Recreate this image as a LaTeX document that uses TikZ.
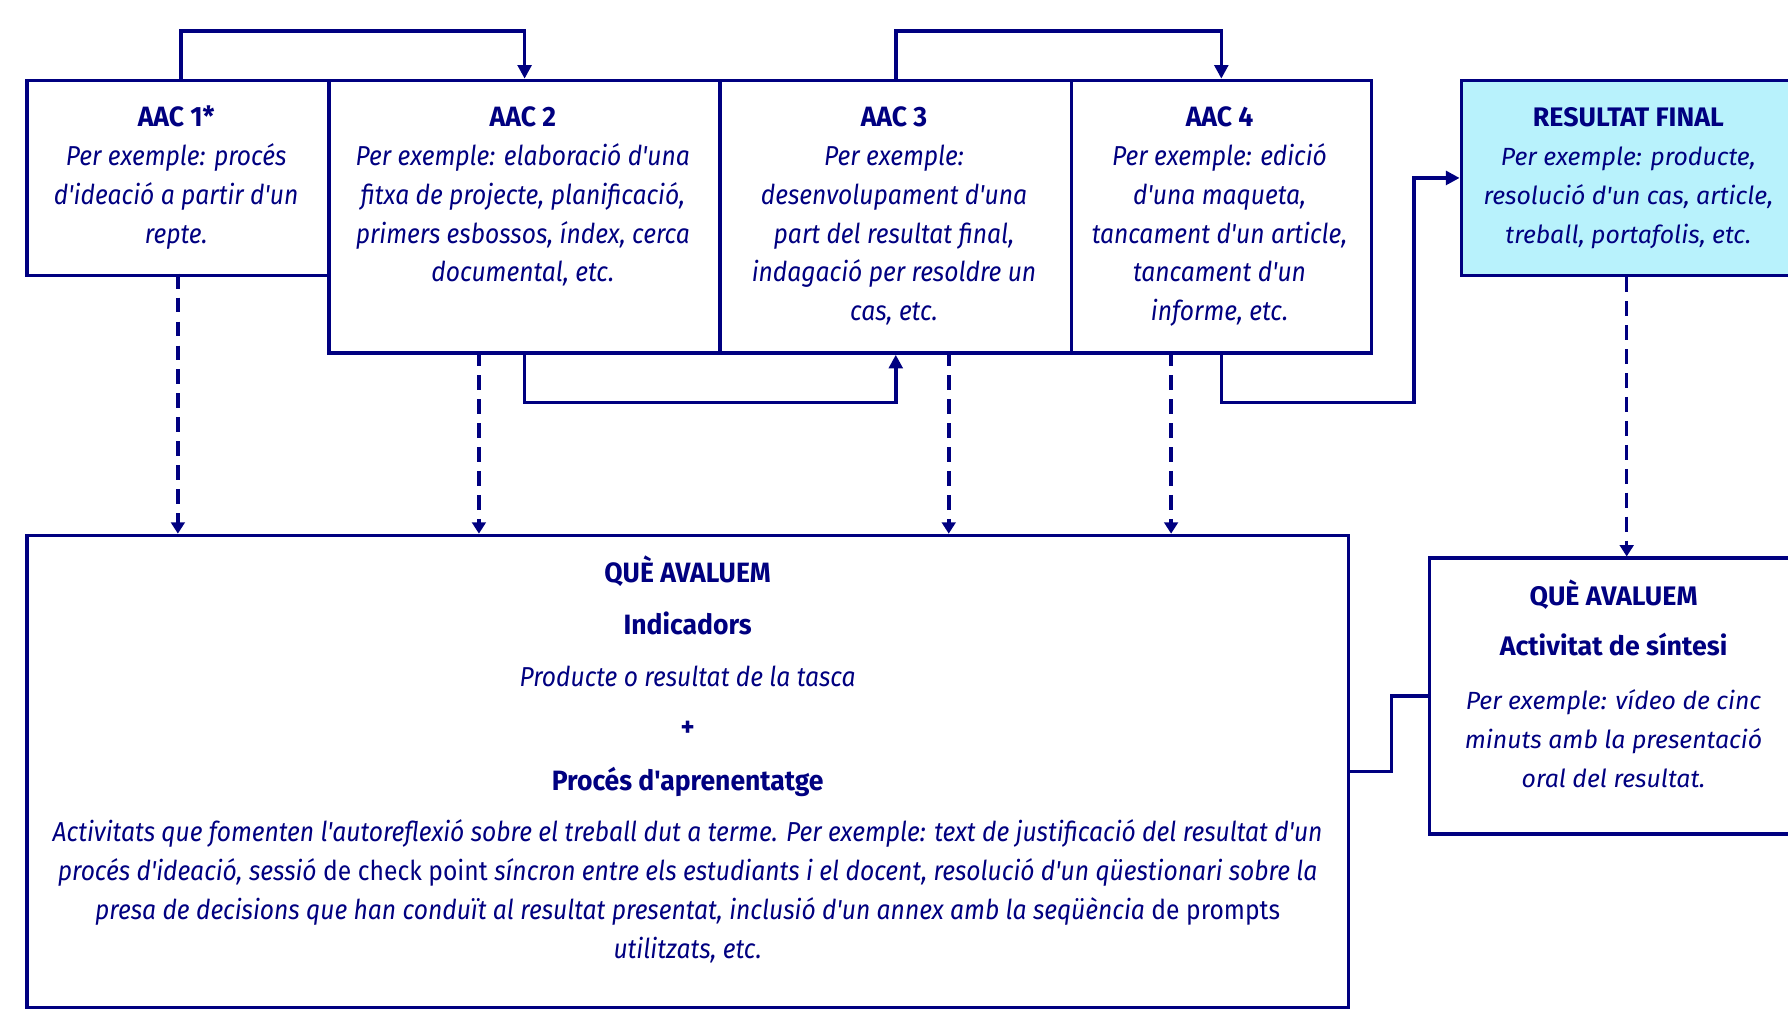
\documentclass[tikz,border=0pt]{standalone}
\usepackage{fontspec}
\setmainfont{Fira Sans}
\newfontfamily\cf[FakeStretch=0.90]{Fira Sans}
\newfontfamily\cfb[FakeStretch=0.95]{Fira Sans}
\newfontfamily\nf{Fira Sans}
\usetikzlibrary{arrows.meta,calc}
\definecolor{navy}{RGB}{0,0,128}
\definecolor{cyanfill}{RGB}{184,242,252}
\newcommand\tstrut{\rule{0pt}{25pt}}
\newcommand\hb[1]{{\cfb\fontsize{24.5}{34}\selectfont\bfseries #1}}
\newcommand\nb[1]{{\fontsize{23.5}{34}\selectfont\bfseries #1}}
\begin{document}
\begin{tikzpicture}[x=1pt,y=-1pt,
  box/.style={draw=navy, line width=3.1pt, rectangle, inner sep=0pt, anchor=north west},
  ctext/.style={text=navy, align=center, inner sep=0pt, anchor=north, font=\cf\fontsize{24}{34}\selectfont},
  ntext/.style={text=navy, align=center, inner sep=0pt, anchor=north, font=\nf\fontsize{21.8}{34}\selectfont},
  flow/.style={draw=navy, line width=3.1pt, -{Triangle[length=12pt,width=12pt]}},
  dflow/.style={draw=navy, line width=3.1pt, dash pattern=on 13pt off 8pt, -{Triangle[length=10pt,width=12pt]}},
  link/.style={draw=navy, line width=3.1pt},
]
\useasboundingbox (0,0) rectangle (1568,895);

% boxes
\node[box, minimum width=265pt, minimum height=171pt] (a1) at (22,69) {};
\node[box, minimum width=343pt, minimum height=239pt] (a2) at (287,69) {};
\node[box, minimum width=308pt, minimum height=239pt] (a3) at (630,69) {};
\node[box, minimum width=263pt, minimum height=239pt] (a4) at (938,69) {};
\node[box, fill=cyanfill, minimum width=300pt, minimum height=171pt] (rf) at (1280,69) {};
\node[box, minimum width=1159pt, minimum height=414pt] (q1) at (22,468) {};
\node[box, minimum width=330pt, minimum height=242pt] (q2) at (1252,488) {};

% texts
\node[ctext] (t1) at (154.5,86) {\tstrut\hb{AAC 1*}\\\textit{Per exemple: procés}\\\textit{d'ideació a partir d'un}\\\textit{repte.}};
\node[ctext] (t2) at (458.5,86) {\tstrut\hb{AAC 2}\\\textit{Per exemple: elaboració d'una}\\\textit{fitxa de projecte, planificació,}\\\textit{primers esbossos, índex, cerca}\\\textit{documental, etc.}};
\node[ctext] (t3) at (784,86) {\tstrut\hb{AAC 3}\\\textit{Per exemple:}\\\textit{desenvolupament d'una}\\\textit{part del resultat final,}\\\textit{indagació per resoldre un}\\\textit{cas, etc.}};
\node[ctext] (t4) at (1069.5,86) {\tstrut\hb{AAC 4}\\\textit{Per exemple: edició}\\\textit{d'una maqueta,}\\\textit{tancament d'un article,}\\\textit{tancament d'un}\\\textit{informe, etc.}};
\node[ntext] (t5) at (1428,86) {\tstrut\nb{RESULTAT FINAL}\\\textit{Per exemple: producte,}\\\textit{resolució d'un cas, article,}\\\textit{treball, portafolis, etc.}};
\node[ctext] (t6) at (603,486) {\tstrut\hb{QUÈ AVALUEM}\\[11pt]\hb{Indicadors}\\[12pt]\textit{Producte o resultat de la tasca}\\[10pt]\hb{+}\\[13pt]\hb{Procés d'aprenentatge}\\[11pt]\textit{Activitats que fomenten l'autoreflexió sobre el treball dut a terme. Per exemple: text de justificació del resultat d'un}\\\textit{procés d'ideació, sessió} de check point \textit{síncron entre els estudiants i el docent, resolució d'un qüestionari sobre la}\\\textit{presa de decisions que han conduït al resultat presentat, inclusió d'un annex amb la seqüència} de prompts\\\textit{utilitzats, etc.}};
\node[ntext] (t7) at (1415,506) {\tstrut\nb{QUÈ AVALUEM}\\[10pt]\nb{Activitat de síntesi}\\[13pt]\textit{Per exemple: vídeo de cinc}\\\textit{minuts amb la presentació}\\\textit{oral del resultat.}};

% solid connectors
\draw[flow] ([xshift=2.5pt]a1.north) -- ++(0,-42) -| (a2.north);
\draw[flow] (a3.north) -- ++(0,-42) -| (a4.north);
\draw[flow] (a2.south) -- ++(0,42) -| (a3.south);
\draw[flow] (a4.south) -- ++(0,42) -| ($(rf.west)+(-40,0)$) -- (rf.west);
\draw[link] (q1.east) -- ++(36,0) |- (q2.west);

% dashed connectors
\coordinate (s1) at (156,240);
\coordinate (s2) at (420,308);
\coordinate (s3) at (832,308);
\coordinate (s4) at (1027,308);
\draw[dflow] (s1) -- (s1 |- q1.north);
\draw[dflow] (s2) -- (s2 |- q1.north);
\draw[dflow] (s3) -- (s3 |- q1.north);
\draw[dflow] (s4) -- (s4 |- q1.north);
\draw[dflow] ([xshift=-5pt]rf.south) -- ([xshift=-5pt]rf.south |- q2.north);
\end{tikzpicture}
\end{document}
